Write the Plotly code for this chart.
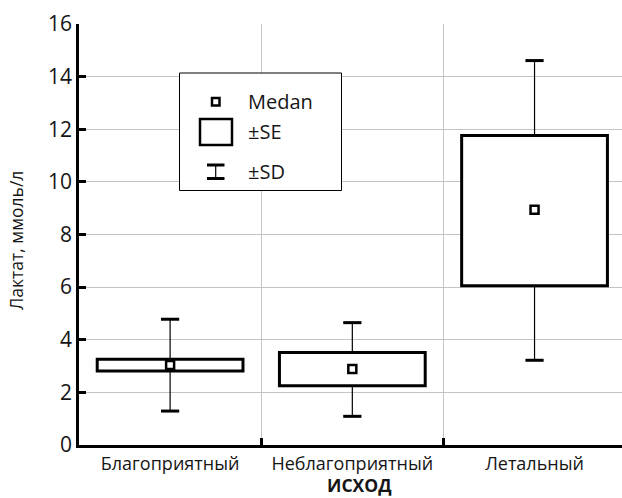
import plotly.graph_objects as go

categories = ["Благоприятный", "Неблагоприятный", "Летальный"]
median = [3.04, 2.89, 8.94]
se_low = [2.81, 2.25, 6.05]
se_high = [3.26, 3.52, 11.76]
sd_low = [1.29, 1.09, 3.22]
sd_high = [4.78, 4.65, 14.61]
y_ticks = [0, 2, 4, 6, 8, 10, 12, 14, 16]

W, H = 622, 498
L, R, T, B = 79, 0, 24, 53
PW, PH = W - L - R, H - T - B

def px(x):
    return (x - L) / PW

def py(y):
    return (H - B - y) / PH

FONT = "Open Sans"
TXT = "#151515"
fig = go.Figure()

# SE boxes
fig.add_trace(go.Bar(
    x=categories,
    y=[h - l for h, l in zip(se_high, se_low)],
    base=se_low,
    width=0.8,
    marker=dict(color="white", line=dict(color="black", width=3)),
    showlegend=False, hoverinfo="skip",
))

# upper whisker stems
fig.add_trace(go.Scatter(
    x=categories, y=se_high, mode="markers",
    marker=dict(size=1, color="rgba(0,0,0,0)"),
    error_y=dict(type="data", symmetric=False,
                 array=[h - s for h, s in zip(sd_high, se_high)],
                 arrayminus=[0, 0, 0], width=0, thickness=1.2, color="black"),
    showlegend=False, hoverinfo="skip",
))
# lower whisker stems
fig.add_trace(go.Scatter(
    x=categories, y=se_low, mode="markers",
    marker=dict(size=1, color="rgba(0,0,0,0)"),
    error_y=dict(type="data", symmetric=False,
                 array=[0, 0, 0],
                 arrayminus=[s - l for s, l in zip(se_low, sd_low)],
                 width=0, thickness=1.2, color="black"),
    showlegend=False, hoverinfo="skip",
))
# whisker caps
fig.add_trace(go.Scatter(
    x=categories + categories, y=sd_high + sd_low, mode="markers",
    marker=dict(symbol="line-ew", size=13, line=dict(color="black", width=3)),
    showlegend=False, hoverinfo="skip",
))
# medians
fig.add_trace(go.Scatter(
    x=categories, y=median, mode="markers",
    marker=dict(symbol="square", size=8, color="white",
                line=dict(color="black", width=2.5)),
    showlegend=False, hoverinfo="skip",
))

# custom legend
shapes = []
shapes.append(dict(type="rect", xref="paper", yref="paper",
                   x0=px(179.5), x1=px(341.5), y0=py(190.5), y1=py(73),
                   fillcolor="white", line=dict(color="black", width=1), layer="above"))
# median glyph
shapes.append(dict(type="rect", xref="paper", yref="paper",
                   x0=px(212), x1=px(219.5), y0=py(105.5), y1=py(98),
                   fillcolor="white", line=dict(color="black", width=2.5), layer="above"))
# SE glyph
shapes.append(dict(type="rect", xref="paper", yref="paper",
                   x0=px(200), x1=px(232), y0=py(145), y1=py(119),
                   fillcolor="white", line=dict(color="black", width=2.5), layer="above"))
# SD glyph
shapes.append(dict(type="line", xref="paper", yref="paper",
                   x0=px(215.7), x1=px(215.7), y0=py(178.5), y1=py(165),
                   line=dict(color="black", width=1.2), layer="above"))
for yy in (165, 178.5):
    shapes.append(dict(type="line", xref="paper", yref="paper",
                       x0=px(207), x1=px(224.5), y0=py(yy), y1=py(yy),
                       line=dict(color="black", width=3), layer="above"))

annotations = []
for txt, yy in (("Medan", 101.5), ("±SE", 131.5), ("±SD", 172)):
    annotations.append(dict(text=txt, xref="paper", yref="paper",
                            x=px(246), y=py(yy), xanchor="left", yanchor="middle",
                            showarrow=False, font=dict(family=FONT, size=20, color=TXT)))
annotations.append(dict(text="<b>ИСХОД</b>", xref="paper", yref="paper",
                        x=px(359), y=py(497.5), xanchor="center", yanchor="bottom",
                        borderpad=0,
                        showarrow=False, font=dict(family=FONT, size=17.5, color=TXT)))
annotations.append(dict(text="Лактат, ммоль/л", xref="paper", yref="paper",
                        x=px(16), y=py(241), xanchor="center", yanchor="middle",
                        textangle=-90,
                        showarrow=False, font=dict(family=FONT, size=17.5, color=TXT)))

fig.update_layout(
    width=W, height=H,
    margin=dict(l=L, r=R, t=T, b=B),
    plot_bgcolor="white", paper_bgcolor="white",
    font=dict(family=FONT, color=TXT),
    shapes=shapes, annotations=annotations,
    bargap=0.2,
    xaxis=dict(
        type="category", range=[-0.5, 2.48],
        tickson="boundaries", ticks="inside", ticklen=7, tickwidth=2.5, tickcolor="black",
        showgrid=True, gridcolor="#c4c4c4", gridwidth=1,
        showline=True, linecolor="black", linewidth=2.8,
        tickfont=dict(family=FONT, size=18, color=TXT),
        zeroline=False, fixedrange=True,
    ),
    yaxis=dict(
        range=[0, 16], tickvals=y_ticks,
        ticks="inside", ticklen=7, tickwidth=2.5, tickcolor="black",
        showgrid=True, gridcolor="#c4c4c4", gridwidth=1,
        showline=True, linecolor="black", linewidth=2.8,
        tickfont=dict(family=FONT, size=21, color=TXT),
        zeroline=False, fixedrange=True,
    ),
)

fig.write_html("out.html")
